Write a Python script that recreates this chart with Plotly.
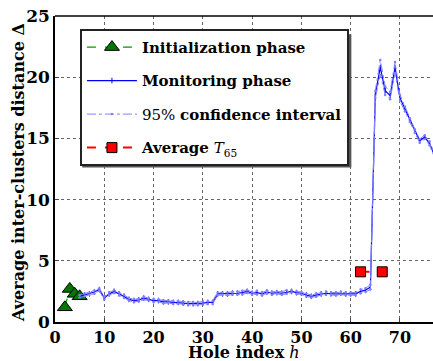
import plotly.graph_objects as go

# ---------------- data ----------------
init_x = [2, 3, 4, 5]
init_y = [1.2, 2.7, 2.3, 2.1]

mon_x = list(range(5, 78))
mon_y = [2.1, 2.2, 2.3, 2.45, 2.65, 1.95, 2.3, 2.5, 2.3, 2.1,        # 5-14
         1.85, 1.75, 1.8, 1.95, 1.85, 1.75, 1.75, 1.65, 1.65, 1.6,   # 15-24
         1.6, 1.55, 1.5, 1.5, 1.5, 1.55, 1.6, 1.6, 2.3, 2.3,         # 25-34
         2.3, 2.35, 2.35, 2.4, 2.5, 2.35, 2.4, 2.3, 2.45, 2.35,      # 35-44
         2.4, 2.35, 2.45, 2.5, 2.4, 2.35, 2.2, 2.1, 2.2, 2.3,        # 45-54
         2.35, 2.3, 2.3, 2.35, 2.3, 2.3, 2.3, 2.5, 2.6, 2.85,        # 55-64
         18.6, 20.8, 18.9, 18.5, 20.8, 18.3, 17.4, 16.5, 15.6, 14.8, # 65-74
         15.1, 14.6, 13.6]                                           # 75-77
ci_half = [0.1, 0.12, 0.1, 0.12, 0.1, 0.12, 0.1, 0.12, 0.1, 0.12,
           0.1, 0.12, 0.1, 0.12, 0.1, 0.12, 0.1, 0.12, 0.1, 0.12,
           0.1, 0.12, 0.1, 0.12, 0.1, 0.12, 0.1, 0.12, 0.12, 0.1,
           0.12, 0.1, 0.12, 0.15, 0.12, 0.1, 0.15, 0.12, 0.1, 0.12,
           0.1, 0.12, 0.15, 0.1, 0.12, 0.1, 0.12, 0.1, 0.12, 0.1,
           0.12, 0.1, 0.12, 0.1, 0.12, 0.1, 0.12, 0.15, 0.15, 0.2,
           0.3, 0.6, 0.35, 0.3, 0.45, 0.25, 0.2, 0.15, 0.15, 0.15,
           0.15, 0.15, 0.15]
ci_low = [m - h for m, h in zip(mon_y, ci_half)]
ci_high = [m + h for m, h in zip(mon_y, ci_half)]

t65_x = [62, 66.4]
t65_y = [4.1, 4.1]

x_ticks = [0, 10, 20, 30, 40, 50, 60, 70]
y_ticks = [0, 5, 10, 15, 20, 25]

FONT = "DejaVu Serif"

fig = go.Figure()

fig.add_trace(go.Scatter(
    x=init_x, y=init_y, mode="lines+markers",
    name="<b>Initialization phase</b>", legendgroup="a",
    line=dict(color="#009900", width=1.2, dash="dash"),
    marker=dict(symbol="triangle-up", size=13, color="#007700",
                line=dict(color="black", width=1))))

fig.add_trace(go.Scatter(
    x=mon_x, y=mon_y, mode="lines+markers",
    name="<b>Monitoring phase</b>", legendgroup="b",
    line=dict(color="#0000ff", width=1.2),
    marker=dict(symbol="line-ns", size=4, color="#0000ff",
                line=dict(color="#0000ff", width=1))))

fig.add_trace(go.Scatter(
    x=mon_x, y=ci_low, mode="lines+markers",
    name="95% <b>confidence interval</b>", legendgroup="c",
    line=dict(color="#8080ff", width=1, dash="dashdot"),
    marker=dict(size=2.5, color="#8080ff")))
fig.add_trace(go.Scatter(
    x=mon_x, y=ci_high, mode="lines+markers",
    showlegend=False, legendgroup="c",
    line=dict(color="#8080ff", width=1, dash="dashdot"),
    marker=dict(size=2.5, color="#8080ff")))

fig.add_trace(go.Scatter(
    x=t65_x, y=t65_y, mode="lines+markers",
    name="<b>Average</b> <i>T</i><sub>65</sub>", legendgroup="d",
    line=dict(color="#ff0000", width=2, dash="dash"),
    marker=dict(symbol="square", size=10, color="#ff0000",
                line=dict(color="black", width=1))))

grid = dict(showgrid=True, gridcolor="#666666", griddash="dot", gridwidth=1)

fig.update_layout(
    width=433, height=361,
    margin=dict(l=55, r=0, t=16, b=39),
    paper_bgcolor="white", plot_bgcolor="white",
    font=dict(family=FONT, size=16, color="black"),
    xaxis=dict(range=[0, 76.7], tickvals=x_ticks,
               ticktext=[f"<b>{v}</b>" for v in x_ticks],
               tickfont=dict(family=FONT, size=16),
               showline=True, linecolor="black", linewidth=1.5, mirror=False,
               ticks="inside", ticklen=4, zeroline=False, automargin=False,
               **grid),
    yaxis=dict(range=[0, 25], tickvals=y_ticks,
               ticktext=[f"<b>{v}</b>" for v in y_ticks],
               tickfont=dict(family=FONT, size=17),
               showline=True, linecolor="black", linewidth=1.5, mirror=False,
               ticks="inside", ticklen=4, zeroline=False, automargin=False,
               **grid),
    legend=dict(x=0.066, y=0.958, xanchor="left", yanchor="top",
                bgcolor="white", bordercolor="#222222", borderwidth=2,
                font=dict(family=FONT, size=15), traceorder="grouped",
                tracegroupgap=11, itemwidth=50),
    shapes=[dict(type="line", xref="paper", yref="paper", x0=0, x1=1,
                 y0=1, y1=1, line=dict(color="black", width=1.5)),
            dict(type="rect", xref="paper", yref="paper", layer="above",
                 x0=0.072, x1=0.784, y0=0.505, y1=0.94,
                 fillcolor="#555555", line=dict(width=0))],
    annotations=[
        dict(text="<b>Hole index</b> <i>h</i>", xref="paper", yref="paper",
             x=0.5, y=-0.1, xanchor="center", yanchor="middle",
             showarrow=False, font=dict(family=FONT, size=16)),
        dict(text="<b>Average inter-clusters distance Δ</b>", xref="paper",
             yref="paper", x=-0.098, y=0.49, xanchor="center", yanchor="middle",
             textangle=-90, showarrow=False, font=dict(family=FONT, size=16)),
    ],
)

fig.write_html("out.html", post_script="document.body.style.margin='0';",
               config={"displayModeBar": False})
